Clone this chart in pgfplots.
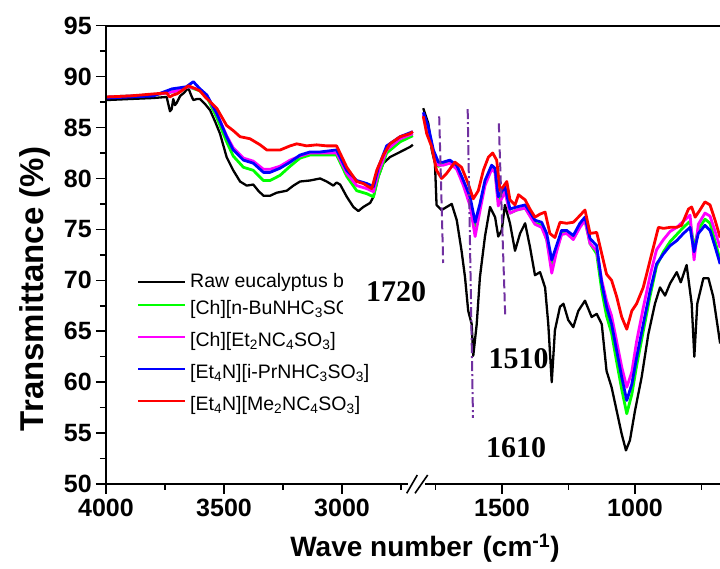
\documentclass[border=0pt]{standalone}
\usepackage{pgfplots}
\pgfplotsset{compat=1.18}
\usepackage{fontspec}
\setmainfont{Liberation Sans}
\newfontfamily\timesfont{Liberation Serif}
\definecolor{vio}{RGB}{112,48,160}
\definecolor{pmag}{RGB}{255,0,255}
\definecolor{pgrn}{RGB}{0,255,0}
\definecolor{pblu}{RGB}{0,0,255}
\definecolor{pred}{RGB}{255,0,0}
\begin{document}
\begin{tikzpicture}
\pgfplotsset{
 common/.style={
  scale only axis, height=458.3pt, ymin=50, ymax=95, x dir=reverse,
  axis line style={draw=none},
  tick pos=left, tick align=outside,
  major tick length=10pt, minor tick length=6pt,
  tick style={black, line width=1.5pt},
  /pgf/number format/assume math mode=true,
  /pgf/number format/1000 sep={},
  tick label style={font=\fontsize{25}{25}\selectfont\bfseries, inner sep=0pt},
  xticklabel style={yshift=-5pt},
  clip=true,
 },
 blk/.style={black, line width=2.3pt, line join=round, no marks},
 grn/.style={pgrn, line width=2.8pt, line join=round, no marks},
 mag/.style={pmag, line width=2.8pt, line join=round, no marks},
 blu/.style={pblu, line width=2.8pt, line join=round, no marks},
 rd/.style={pred, line width=2.8pt, line join=round, no marks},
}
% ---------------- left segment ----------------
\begin{axis}[common, at={(106pt,85pt)}, anchor=south west, width=309pt,
  xmin=2691, xmax=4000, xtick={3000,3500,4000}, minor xtick={2750,3250,3750},
  ytick={50,55,...,95}, minor ytick={52.5,57.5,...,92.5},
  yticklabel style={xshift=-4pt}]
\addplot[blk] coordinates {(3997,87.7)(3900,87.8)(3800,87.9)(3743,88.0)(3736,87.3)(3729,86.6)(3722,86.8)(3715,87.8)(3708,87.2)(3701,87.4)(3686,88.1)(3670,88.4)(3651,88.9)(3640,88.2)(3630,87.7)(3615,87.8)(3602,87.8)(3580,87.3)(3559,86.7)(3538,85.6)(3517,84.4)(3489,82.1)(3461,80.8)(3432,79.7)(3404,79.3)(3376,79.4)(3355,78.8)(3333,78.3)(3305,78.3)(3277,78.6)(3234,78.8)(3206,79.3)(3178,79.7)(3136,79.8)(3093,80.0)(3065,79.7)(3037,79.3)(3023,79.6)(3008,79.4)(2980,78.2)(2952,77.2)(2931,76.8)(2910,77.2)(2881,77.6)(2867,78.2)(2846,80.2)(2825,81.5)(2797,82.1)(2754,82.6)(2712,83.1)(2700,83.3)};
\addplot[grn] coordinates {(3997,88.0)(3800,88.2)(3743,88.4)(3700,88.6)(3651,89.0)(3602,88.6)(3573,88.0)(3531,86.0)(3489,83.6)(3461,82.2)(3418,81.1)(3376,80.8)(3333,79.8)(3305,79.8)(3263,80.3)(3220,81.2)(3178,82.0)(3136,82.3)(3093,82.3)(3023,82.3)(2980,80.2)(2938,78.8)(2895,78.5)(2867,78.2)(2846,80.2)(2811,82.5)(2754,83.6)(2700,84.2)};
\addplot[mag] coordinates {(3997,88.0)(3800,88.2)(3743,88.4)(3700,88.6)(3651,89.0)(3602,88.7)(3573,88.1)(3531,86.4)(3489,84.2)(3461,83.0)(3418,82.0)(3376,81.7)(3333,80.9)(3305,80.9)(3263,81.2)(3220,81.8)(3178,82.2)(3136,82.5)(3093,82.5)(3023,82.5)(2980,80.5)(2938,79.3)(2895,79.0)(2867,78.7)(2846,80.6)(2811,82.8)(2754,83.9)(2700,84.4)};
\addplot[blu] coordinates {(3997,87.9)(3800,88.1)(3743,88.6)(3720,88.8)(3690,88.9)(3660,89.0)(3630,89.5)(3602,88.8)(3573,88.2)(3531,86.4)(3489,84.1)(3461,82.8)(3418,81.8)(3376,81.5)(3333,80.6)(3305,80.6)(3263,81.0)(3220,81.6)(3178,82.3)(3136,82.6)(3093,82.6)(3023,82.8)(2980,80.8)(2938,79.8)(2895,79.5)(2867,79.2)(2846,81.1)(2811,83.2)(2754,84.1)(2700,84.6)};
\addplot[rd] coordinates {(3997,88.0)(3900,88.1)(3800,88.3)(3743,88.4)(3730,88.0)(3715,88.2)(3700,88.3)(3686,88.5)(3651,89.1)(3620,88.8)(3602,88.6)(3580,88.0)(3531,86.9)(3489,85.2)(3461,84.7)(3432,84.1)(3390,83.9)(3347,83.3)(3319,82.8)(3262,82.8)(3220,83.2)(3192,83.4)(3150,83.2)(3108,83.3)(3065,83.2)(3023,83.2)(2980,81.1)(2938,79.7)(2910,79.5)(2874,79.0)(2853,80.8)(2825,82.3)(2797,83.4)(2754,84.1)(2712,84.4)(2700,84.6)};
\end{axis}
% ---------------- right segment ----------------
\begin{axis}[common, at={(415pt,85pt)}, anchor=south west, width=307pt,
  xmin=673, xmax=1827, xtick={1000,1500}, minor xtick={750,1250,1750},
  ytick=\empty]
\addplot[blk] coordinates {(1796,86.9)(1777,85.4)(1764,82.8)(1752,81.5)(1746,77.4)(1727,76.9)(1708,77.2)(1689,77.5)(1670,75.9)(1652,72.9)(1639,70.3)(1627,67.0)(1614,65.7)(1608,62.6)(1595,65.7)(1583,70.3)(1564,74.3)(1545,77.2)(1526,76.2)(1514,74.3)(1501,74.9)(1489,77.4)(1470,75.6)(1451,72.9)(1432,74.6)(1413,75.6)(1395,73.3)(1376,70.5)(1357,70.8)(1338,69.3)(1326,65.7)(1313,60.0)(1301,65.1)(1282,67.4)(1269,67.7)(1251,66.1)(1232,65.4)(1213,67.0)(1188,68.0)(1163,66.4)(1144,66.7)(1125,65.7)(1107,61.1)(1088,59.5)(1069,57.2)(1050,54.9)(1034,53.3)(1019,54.3)(1000,57.2)(975,60.5)(950,64.7)(925,67.7)(906,69.3)(887,68.5)(868,69.7)(843,70.8)(828,69.8)(806,71.5)(787,67.7)(777,62.5)(766,67.7)(743,70.2)(724,70.2)(706,68.4)(680,63.8)};
\addplot[grn] coordinates {(1796,86.2)(1777,84.8)(1758,82.5)(1739,81.2)(1721,81.4)(1696,81.6)(1670,81.0)(1645,79.5)(1620,77.8)(1601,75.2)(1583,77.2)(1564,79.5)(1539,81.0)(1526,80.7)(1514,77.8)(1489,78.9)(1470,76.6)(1445,76.9)(1413,77.1)(1395,76.4)(1376,75.6)(1351,75.4)(1332,74.0)(1313,71.3)(1295,73.0)(1276,74.6)(1257,74.6)(1232,74.1)(1207,75.3)(1188,75.9)(1169,73.6)(1144,72.6)(1125,69.0)(1107,66.5)(1088,64.8)(1069,62.0)(1050,59.3)(1031,56.9)(1012,58.8)(994,61.6)(969,65.0)(943,68.5)(919,71.4)(893,72.8)(868,73.8)(843,74.5)(818,75.2)(793,75.8)(778,73.2)(762,75.0)(737,76.0)(718,75.6)(699,73.8)(680,72.0)};
\addplot[mag] coordinates {(1796,86.3)(1777,84.9)(1758,82.6)(1739,81.3)(1721,81.3)(1696,81.5)(1670,80.9)(1645,79.3)(1620,77.3)(1601,74.3)(1583,76.8)(1564,79.3)(1539,80.9)(1526,80.6)(1514,77.3)(1489,78.7)(1470,76.6)(1445,76.9)(1413,77.1)(1395,76.3)(1376,75.5)(1351,75.2)(1332,74.0)(1313,70.7)(1295,72.8)(1276,74.5)(1257,74.6)(1232,74.0)(1207,75.2)(1188,75.9)(1169,73.6)(1144,72.9)(1125,70.0)(1107,68.0)(1088,66.5)(1069,64.0)(1050,61.5)(1031,59.5)(1012,61.0)(994,64.0)(969,67.3)(943,70.5)(919,73.0)(893,74.0)(868,74.8)(843,75.2)(818,75.8)(793,76.4)(778,72.0)(762,75.5)(737,76.6)(718,76.3)(699,74.8)(680,73.2)};
\addplot[blu] coordinates {(1796,86.5)(1777,85.1)(1758,82.8)(1739,81.6)(1721,81.6)(1696,81.8)(1670,81.3)(1645,79.8)(1620,78.2)(1601,75.7)(1583,77.5)(1564,79.8)(1539,81.3)(1526,81.0)(1514,78.2)(1489,79.2)(1470,77.0)(1445,77.2)(1413,77.4)(1395,76.7)(1376,75.9)(1351,75.7)(1332,74.6)(1313,72.0)(1295,73.4)(1276,74.9)(1257,74.9)(1232,74.4)(1207,75.6)(1188,76.2)(1169,74.1)(1144,73.4)(1125,69.7)(1107,67.4)(1088,65.7)(1069,63.1)(1050,60.5)(1031,58.2)(1012,59.8)(994,62.4)(969,65.7)(943,69.0)(919,71.6)(893,72.6)(868,73.4)(843,73.9)(818,74.6)(793,75.2)(778,72.8)(762,74.6)(737,75.4)(718,74.9)(699,73.3)(680,71.6)};
\addplot[rd] coordinates {(1796,86.1)(1783,84.4)(1764,83.1)(1746,80.8)(1727,80.0)(1708,80.5)(1677,81.6)(1652,81.1)(1627,79.5)(1608,78.0)(1589,78.8)(1570,80.8)(1551,82.1)(1535,82.5)(1520,81.8)(1507,78.8)(1495,79.2)(1482,79.7)(1470,77.9)(1451,77.4)(1438,78.4)(1413,77.9)(1395,77.0)(1376,76.2)(1357,76.5)(1338,76.7)(1320,74.6)(1301,74.2)(1282,75.7)(1257,75.6)(1232,75.7)(1213,76.2)(1188,76.9)(1169,74.6)(1144,74.7)(1125,72.6)(1107,70.6)(1088,70.0)(1069,68.4)(1050,66.4)(1031,65.2)(1012,67.0)(994,67.7)(969,69.3)(943,72.0)(912,75.2)(893,75.1)(868,75.2)(843,75.2)(825,75.4)(799,77.0)(787,77.2)(774,76.2)(756,76.9)(737,77.7)(718,77.4)(699,75.9)(680,74.2)};
\draw[vio, line width=2pt, dash pattern=on 9pt off 4pt] (axis cs:1736,86.1) -- (axis cs:1721,71.7);
\draw[vio, line width=2pt, dash pattern=on 10pt off 3pt on 2pt off 3pt] (axis cs:1629,86.8) -- (axis cs:1609,56.5);
\draw[vio, line width=2pt, dash pattern=on 9pt off 4pt] (axis cs:1512,85.4) -- (axis cs:1488,66.65);
\end{axis}
\begin{scope}[x=1pt,y=1pt]
% ---------------- frame ----------------
\draw[line width=2pt] (106,85) -- (106,543.3);
\draw[line width=2pt] (105,543.3) -- (726,543.3);
\draw[line width=2pt] (105,85) -- (726,85);
\draw[line width=2pt] (722,85) -- (722,543.3);
\fill[white] (408,80) rectangle (425,90);
\draw[line width=1.6pt] (406.7,75.7) -- (417.3,94);
\draw[line width=1.6pt] (415,75.7) -- (427.7,94);
% ---------------- legend ----------------
\begin{scope}[every node/.style={anchor=base west, inner sep=0pt, font=\fontsize{19.5}{20}\selectfont}]
\draw[black, line width=2pt] (138,287) -- (185,287);
\node at (190,281.5) {Raw eucalyptus bark};
\draw[pgrn, line width=2pt] (138,264) -- (185,264);
\node at (190,254.5) {[Ch][n-BuNHC\textsubscript{3}SO\textsubscript{3}]};
\draw[pmag, line width=2pt] (138,232) -- (185,232);
\node at (190,222.5) {[Ch][Et\textsubscript{2}NC\textsubscript{4}SO\textsubscript{3}]};
\draw[pblu, line width=2pt] (138,200) -- (185,200);
\node at (190,190.5) {[Et\textsubscript{4}N][i-PrNHC\textsubscript{3}SO\textsubscript{3}]};
\draw[pred, line width=2pt] (138,168) -- (185,168);
\node at (190,158.5) {[Et\textsubscript{4}N][Me\textsubscript{2}NC\textsubscript{4}SO\textsubscript{3}]};
\end{scope}
% ---------------- annotations ----------------
\fill[white] (343,247) rectangle (428,301);
\begin{scope}[every node/.style={inner sep=0pt, font=\fontsize{30}{30}\selectfont\timesfont\bfseries}]
\node at (396,277.5) {1720};
\node at (518.5,210) {1510};
\node at (516,121) {1610};
\end{scope}
% ---------------- axis titles ----------------
\node[rotate=90, font=\fontsize{33}{33}\selectfont\bfseries] at (35,280) {Transmittance (\%)};
\node[font=\fontsize{28}{28}\selectfont\bfseries] at (425,21) {Wave number\hspace{0.35em}(cm\textsuperscript{-1})};
\pgfresetboundingbox
\path[use as bounding box] (0,0) rectangle (720,569);
\end{scope}
\end{tikzpicture}
\end{document}
